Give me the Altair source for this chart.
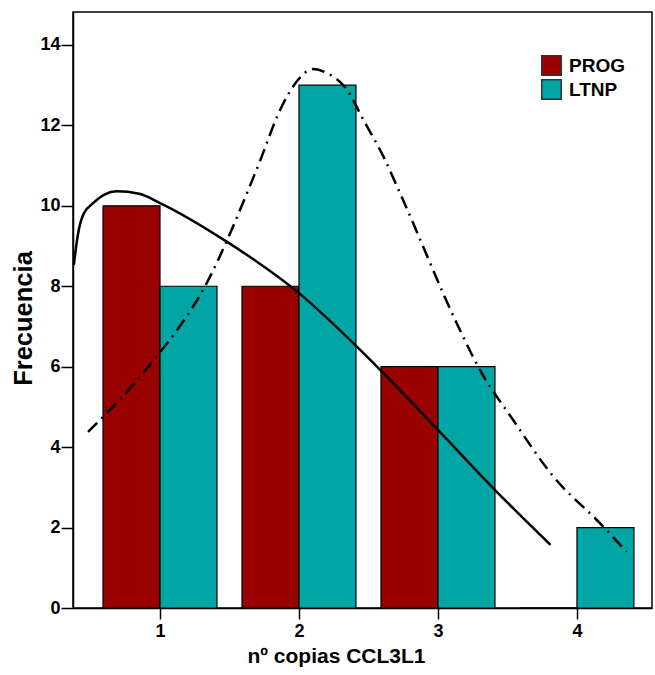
import altair as alt
import pandas as pd

# Bar data
categories = [1, 2, 3, 4]
prog_values = [10, 8, 6, 0]
ltnp_values = [8, 13, 6, 2]
groups = ["PROG", "LTNP"]
colors = ["#990000", "#00A6A6"]

# Fitted curve points
prog_curve_x = [0.38, 0.41, 0.45, 0.52, 0.60, 0.688, 0.85, 1.0, 1.48, 2.0, 2.44, 2.726, 3.0, 3.4, 3.81]
prog_curve_y = [8.53, 9.3, 9.8, 10.07, 10.28, 10.36, 10.3, 10.07, 9.11, 7.83, 6.42, 5.42, 4.43, 2.97, 1.57]
ltnp_curve_x = [0.482, 0.916, 1.336, 1.695, 1.876, 1.985, 2.103, 2.2, 2.345, 2.463,
                2.607, 2.738, 3.146, 3.302, 3.54, 3.83, 4.165, 4.357]
ltnp_curve_y = [4.38, 6.0, 8.08, 10.9, 12.47, 13.1, 13.4, 13.3, 12.89, 12.14,
                11.23, 10.23, 7.0, 5.92, 4.68, 3.27, 2.11, 1.40]

FONT = "Liberation Sans"
BAR_W = 0.41

bars_df = pd.DataFrame(
    [{"cat": c, "group": "PROG", "value": v} for c, v in zip(categories, prog_values)]
    + [{"cat": c, "group": "LTNP", "value": v} for c, v in zip(categories, ltnp_values)]
)
curve_df = pd.DataFrame({"x": prog_curve_x, "y": prog_curve_y})
curve2_df = pd.DataFrame({"x": ltnp_curve_x, "y": ltnp_curve_y})

xscale = alt.Scale(domain=[0.374, 4.54], nice=False, zero=False)
yscale = alt.Scale(domain=[0, 14.82], nice=False)

xaxis = alt.Axis(
    values=categories, format="d", title="nº copias CCL3L1", grid=False,
    tickSize=11, tickWidth=1.5, tickColor="black", domainColor="black", domainWidth=1.5,
    labelFont=FONT, labelFontSize=18, labelFontWeight="bold", labelColor="black", labelPadding=3,
    titleFont=FONT, titleFontSize=21, titleFontWeight="bold", titleColor="black",
    titleX=263, titleY=54, titleBaseline="alphabetic", titleAlign="center",
)
yaxis = alt.Axis(
    values=[0, 2, 4, 6, 8, 10, 12, 14], title="Frecuencia", grid=False,
    tickSize=12, tickWidth=1.5, tickColor="black", domainColor="black", domainWidth=1.5,
    labelFont=FONT, labelFontSize=18, labelFontWeight="bold", labelColor="black", labelPadding=1,
    titleFont=FONT, titleFontSize=25.5, titleFontWeight="bold", titleColor="black",
    titleX=-42, titleY=306, titleAlign="center", titleBaseline="alphabetic", titleAngle=270,
)

bars = alt.Chart(bars_df).transform_calculate(
    x0=f"datum.cat - (datum.group == 'PROG' ? {BAR_W} : 0)",
    x1=f"datum.cat + (datum.group == 'PROG' ? 0 : {BAR_W})",
    zero="0",
).mark_bar(stroke="black", strokeWidth=1.2, opacity=1).encode(
    x=alt.X("x0:Q", scale=xscale, axis=xaxis),
    x2="x1:Q",
    y=alt.Y("value:Q", scale=yscale, axis=yaxis),
    y2="zero:Q",
    color=alt.Color(
        "group:N",
        scale=alt.Scale(domain=groups, range=colors),
        legend=alt.Legend(
            title=None, orient="none", legendX=468, legendY=43,
            symbolType="square", symbolSize=380, symbolStrokeColor="#333333",
            symbolStrokeWidth=1.5, symbolOpacity=1,
            labelFont=FONT, labelFontSize=19, labelFontWeight="bold", labelColor="black",
            labelOffset=7, rowPadding=-5,
        ),
    ),
)

line1 = alt.Chart(curve_df).mark_line(
    color="black", strokeWidth=2.5, interpolate="monotone"
).encode(
    x=alt.X("x:Q", scale=xscale),
    y=alt.Y("y:Q", scale=yscale),
)
line2 = alt.Chart(curve2_df).mark_line(
    color="black", strokeWidth=2.5, interpolate="monotone", strokeDash=[13, 6, 2, 6]
).encode(
    x=alt.X("x:Q", scale=xscale),
    y=alt.Y("y:Q", scale=yscale),
)

chart = alt.layer(bars, line1, line2).properties(
    width=579, height=596,
    autosize=alt.AutoSizeParams(type="none"),
    padding={"left": 73, "top": 12, "right": 3, "bottom": 67},
    background="white",
).configure_view(stroke="black", strokeWidth=1.5)

chart.save("out.html", embed_options={"renderer": "svg", "actions": False})
